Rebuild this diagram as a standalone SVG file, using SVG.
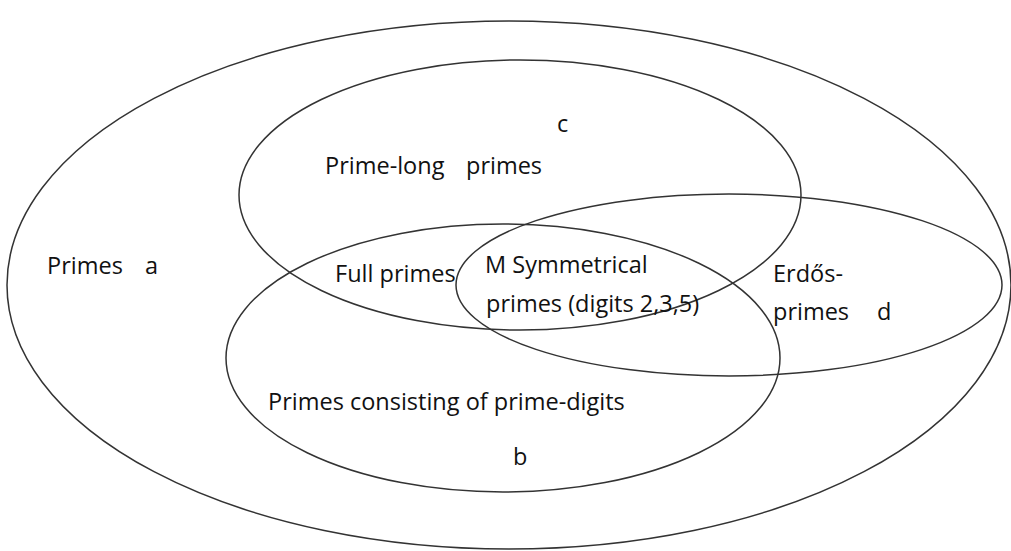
<svg xmlns="http://www.w3.org/2000/svg" width="1011" height="551" viewBox="0 0 1011 551">
<style>
.e{fill:none;stroke:#333;stroke-width:1.5}
.t{font-family:"Open Sans","Liberation Sans",sans-serif;font-size:23.5px;fill:#111}
</style>
<rect width="1011" height="551" fill="#fff"/>
<g id="connectors"></g>
<g id="a"><ellipse class="e" cx="509" cy="285" rx="502" ry="264"/><text class="t" x="47" y="274">Primes</text><text class="t" x="145" y="274">a</text></g>
<g id="c"><ellipse class="e" cx="520" cy="195" rx="281" ry="135"/><text class="t" x="557" y="132">c</text><text class="t" x="325" y="174">Prime-long</text><text class="t" x="466" y="174">primes</text></g>
<g id="d"><ellipse class="e" cx="729" cy="285" rx="273" ry="91"/><text class="t" x="773" y="282">Erdős-</text><text class="t" x="773" y="320">primes</text><text class="t" x="877" y="320">d</text></g>
<g id="b"><ellipse class="e" cx="503" cy="358" rx="277" ry="134"/><text class="t" x="268" y="410">Primes consisting of prime-digits</text><text class="t" x="513" y="465">b</text></g>
<g id="full"><text class="t" x="335" y="282">Full primes</text></g>
<g id="sym"><text class="t" x="485" y="273">M Symmetrical</text><text class="t" x="486" y="312">primes (digits 2,3,5)</text></g>
</svg>
